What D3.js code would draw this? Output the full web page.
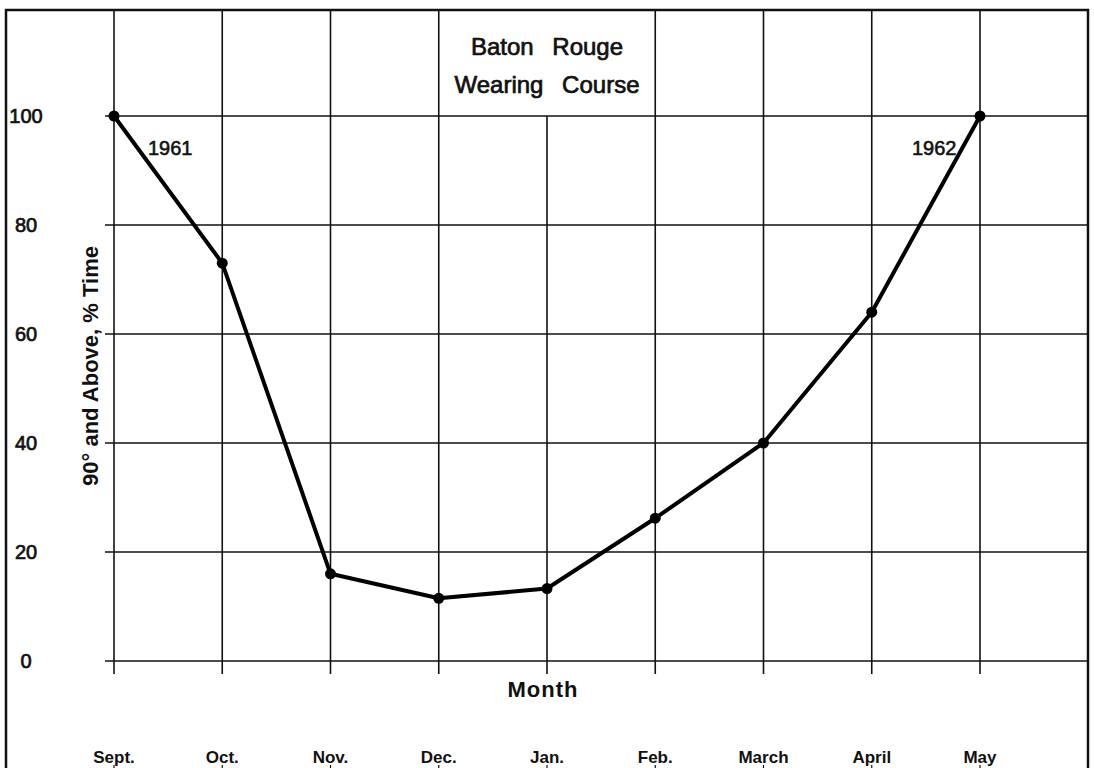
<!DOCTYPE html>
<html>
<head>
<meta charset="utf-8">
<script src="https://cdn.jsdelivr.net/npm/d3@7"></script>
<style>
  body { margin: 0; background: #fff; }
  svg { display: block; font-family: "Liberation Sans", Arial, sans-serif; }
</style>
</head>
<body>
<div id="chart"></div>
<script>
// data
var months = ["Sept.", "Oct.", "Nov.", "Dec.", "Jan.", "Feb.", "March", "April", "May"];
var pctTime = [100, 73, 16, 11.5, 13.3, 26.2, 40, 64, 100];
var yTicks = [0, 20, 40, 60, 80, 100];
var titleLines = ["Baton Rouge", "Wearing Course"];

var width = 1094, height = 768;
var svg = d3.select("#chart").append("svg").attr("width", width).attr("height", height);

var xScale = d3.scalePoint().domain(months).range([114, 980]);
var yScale = d3.scaleLinear().domain([0, 100]).range([661, 116]);

var frameLeft = 6, frameTop = 10, frameRight = 1088;

// horizontal grid
svg.selectAll(".hgrid")
    .data(yTicks)
    .enter()
    .append("line")
    .attr("x1", 105)
    .attr("x2", frameRight)
    .attr("y1", function(d){ return yScale(d); })
    .attr("y2", function(d){ return yScale(d); })
    .attr("stroke", "#111")
    .attr("stroke-width", 1.6);

// vertical grid (Jan. line stops under the title box)
svg.selectAll(".vgrid")
    .data(months)
    .enter()
    .append("line")
    .attr("x1", function(d){ return xScale(d); })
    .attr("x2", function(d){ return xScale(d); })
    .attr("y1", function(d){ return d == "Jan." ? yScale(100) : frameTop; })
    .attr("y2", yScale(0) + 13)
    .attr("stroke", "#111")
    .attr("stroke-width", 1.6);

// small ticks at the very bottom
svg.selectAll(".btick")
    .data(months)
    .enter()
    .append("line")
    .attr("x1", function(d){ return xScale(d); })
    .attr("x2", function(d){ return xScale(d); })
    .attr("y1", 765)
    .attr("y2", 768)
    .attr("stroke", "#111")
    .attr("stroke-width", 1.2);

// frame
svg.append("path")
    .attr("d", "M" + frameLeft + "," + height + "V" + frameTop + "H" + frameRight + "V" + height)
    .attr("fill", "none")
    .attr("stroke", "#111")
    .attr("stroke-width", 2.5);

// y tick labels
svg.selectAll(".ylab")
    .data(yTicks)
    .enter()
    .append("text")
    .text(function(d){ return d; })
    .attr("x", 26)
    .attr("y", function(d){ return yScale(d) + 7; })
    .attr("text-anchor", "middle")
    .attr("font-size", 20)
    .attr("fill", "#111")
    .attr("stroke", "#111")
    .attr("stroke-width", 0.7);

// month labels
svg.selectAll(".mlab")
    .data(months)
    .enter()
    .append("text")
    .text(function(d){ return d; })
    .attr("x", function(d){ return xScale(d); })
    .attr("y", 763)
    .attr("text-anchor", "middle")
    .attr("font-size", 17)
    .attr("font-weight", "bold")
    .attr("fill", "#111");

// axis titles
svg.append("text")
    .text("Month")
    .attr("x", 543)
    .attr("y", 697)
    .attr("text-anchor", "middle")
    .attr("font-size", 22)
    .attr("font-weight", "bold")
    .attr("letter-spacing", 1)
    .attr("fill", "#111");

svg.append("text")
    .text("90° and Above, % Time")
    .attr("transform", "translate(98,366) rotate(-90)")
    .attr("text-anchor", "middle")
    .attr("font-size", 22)
    .attr("font-weight", "bold")
    .attr("fill", "#111");

// title box text
svg.selectAll(".title")
    .data(titleLines)
    .enter()
    .append("text")
    .text(function(d){ return d; })
    .attr("x", xScale("Jan."))
    .attr("y", function(d,i){ return 55 + i*38; })
    .attr("text-anchor", "middle")
    .attr("font-size", 24)
    .attr("word-spacing", 12)
    .attr("fill", "#111")
    .attr("stroke", "#111")
    .attr("stroke-width", 0.7);

// year notes
svg.append("text").text("1961")
    .attr("x", 148).attr("y", 155)
    .attr("font-size", 20).attr("fill", "#111")
    .attr("stroke", "#111").attr("stroke-width", 0.6);
svg.append("text").text("1962")
    .attr("x", 912).attr("y", 155)
    .attr("font-size", 20).attr("fill", "#111")
    .attr("stroke", "#111").attr("stroke-width", 0.6);

// data line
var line = d3.line()
    .x(function(d,i){ return xScale(months[i]); })
    .y(function(d){ return yScale(d); });

svg.append("path")
    .datum(pctTime)
    .attr("d", line)
    .attr("fill", "none")
    .attr("stroke", "#000")
    .attr("stroke-width", 4)
    .attr("stroke-linejoin", "round");

svg.selectAll(".pt")
    .data(pctTime)
    .enter()
    .append("circle")
    .attr("cx", function(d,i){ return xScale(months[i]); })
    .attr("cy", function(d){ return yScale(d); })
    .attr("r", 5.5)
    .attr("fill", "#000");
</script>
</body>
</html>
